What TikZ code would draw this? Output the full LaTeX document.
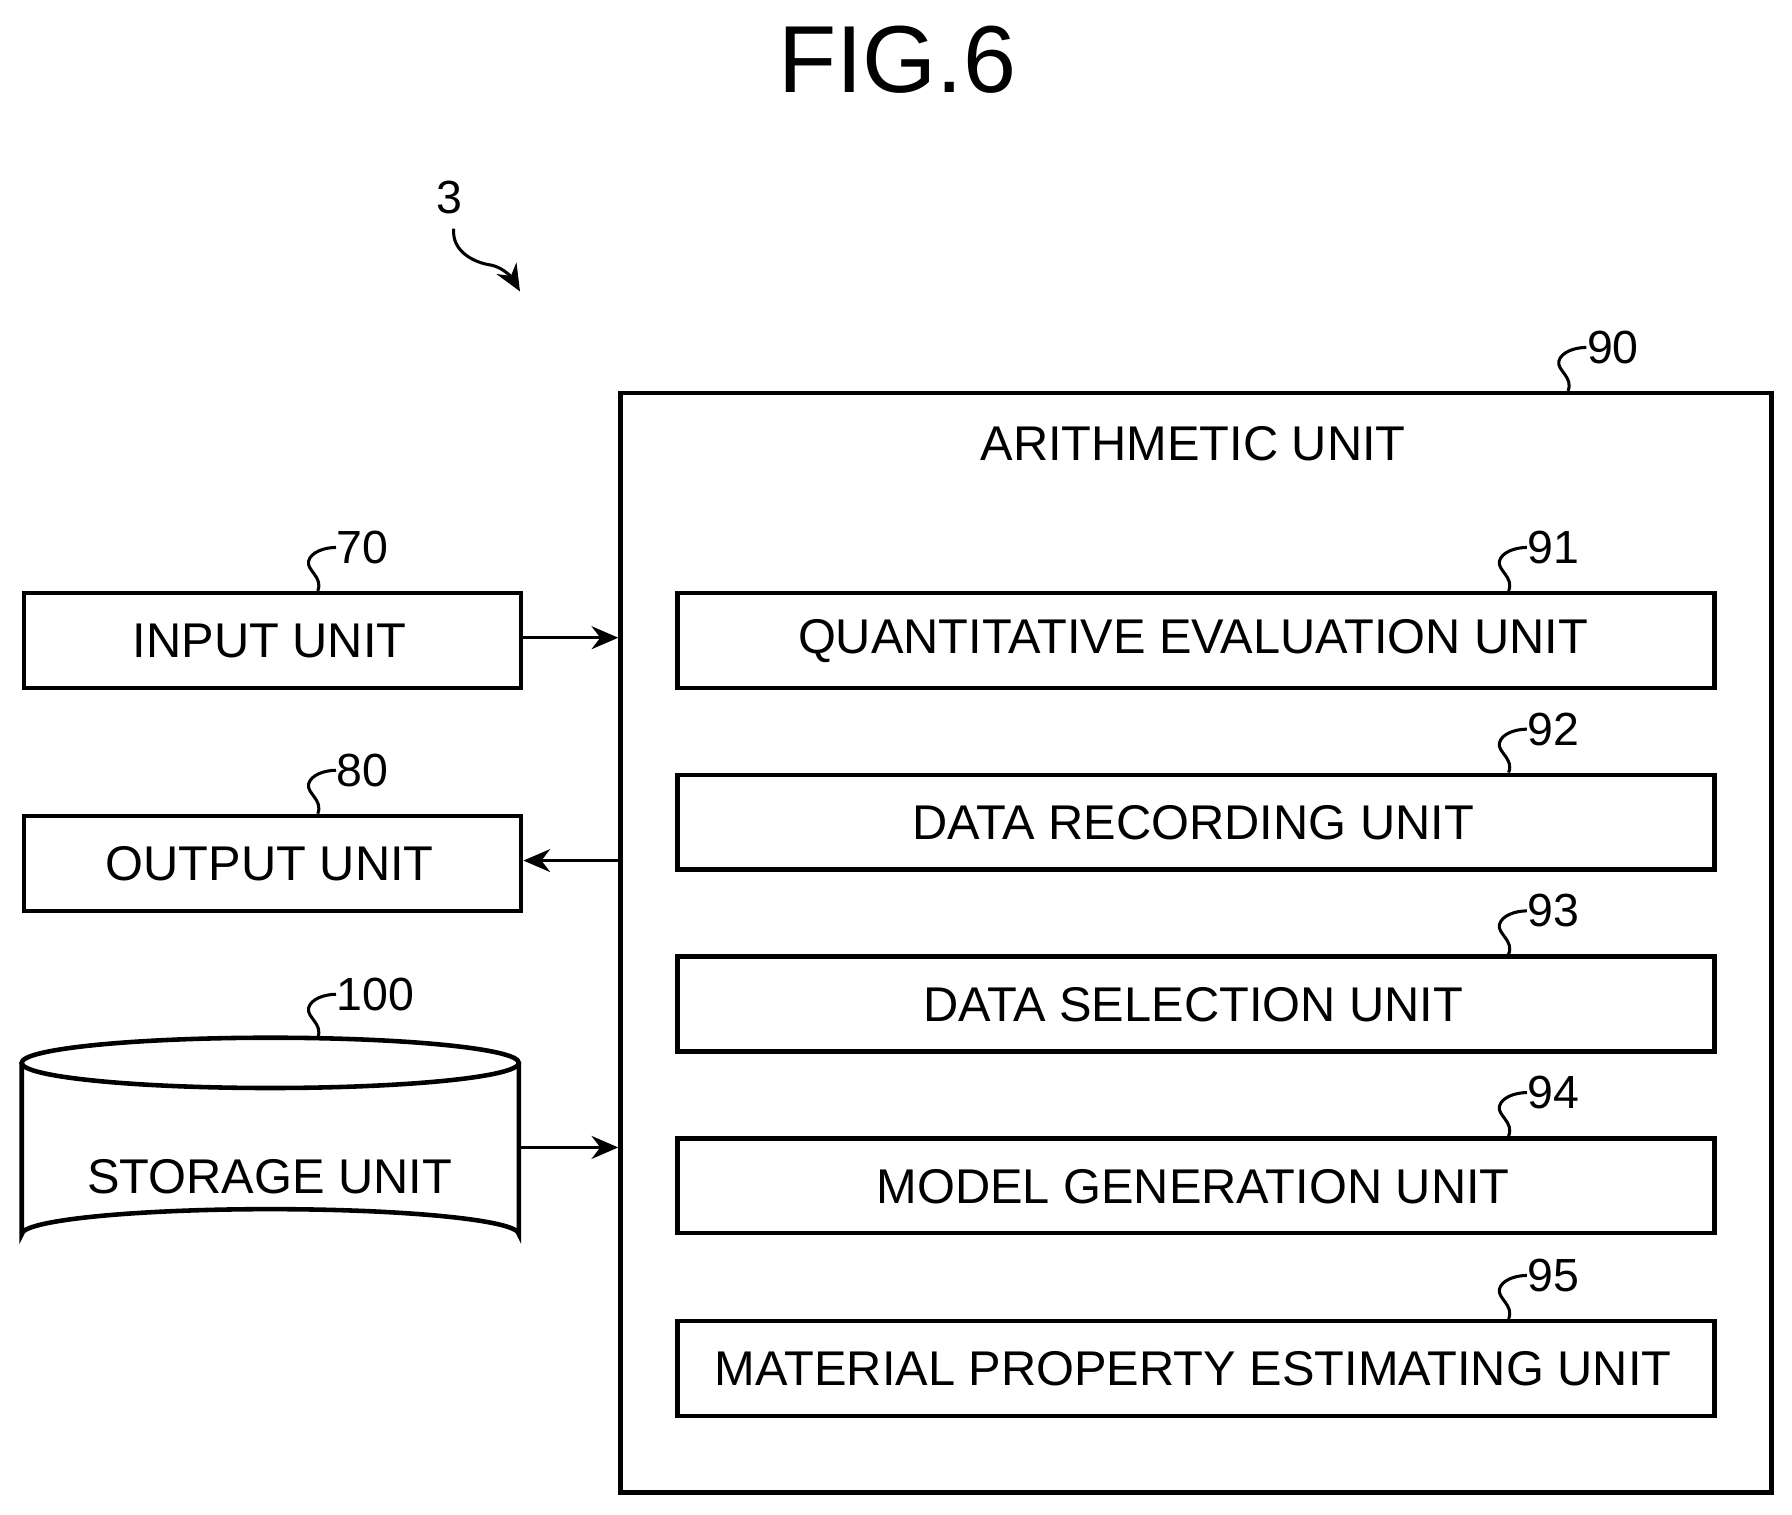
\documentclass[tikz,border=0pt]{standalone}
\usepackage{fontspec}
\setmainfont{Liberation Sans}
\usetikzlibrary{arrows.meta}
\begin{document}
\begin{tikzpicture}[x=0.3pt,y=-0.3pt,
  box/.style={draw,line width=1.2pt},
  lbl/.style={font=\fontsize{12.8}{14}\selectfont},
  num/.style={font=\fontsize{12.2}{14}\selectfont,anchor=west,inner sep=0pt},
  arr/.style={-{Stealth[length=7pt,width=6pt]},line width=0.9pt},
  sq/.style={line width=0.8pt}]
\useasboundingbox (0,0) rectangle (1568,1325);
\newcommand{\squig}[3]{\draw[sq] (#1,#2) .. controls (#1+5,#2-12) and (#1-10,#2-18) .. (#1-8,#2-26) .. controls (#1-6,#2-34) and (#1+6,#2-38) .. (#1+16,#2-38) coordinate (sq#3);
  \node[num] (n#3) at (#1+16,#2-38) {#3};}
\node[font=\fontsize{25}{28}\selectfont] (fig) at (785,52) {FIG.6};
\node[num,anchor=center] (n3) at (393,173) {3};
\coordinate (t3) at (455,255);
\draw[sq,-{Stealth[length=7pt,width=6pt]}] (397,200) .. controls (395,220) and (415,230) .. (430,232) .. controls (440,234) and (448,243) .. (t3);
% arithmetic
\node[box,minimum width=1007*0.3pt,minimum height=962*0.3pt,anchor=north west,inner sep=0pt] (A) at (541,342) {};
\node[lbl] (At) at (1044,388) {ARITHMETIC UNIT};
\squig{1372}{342}{90}
\foreach \y/\n/\t in {517/91/QUANTITATIVE EVALUATION UNIT,676/92/DATA RECORDING UNIT,835/93/DATA SELECTION UNIT,994/94/MODEL GENERATION UNIT,1154/95/MATERIAL PROPERTY ESTIMATING UNIT}{
  \node[box,lbl,minimum width=907*0.3pt,minimum height=83*0.3pt,anchor=north west,inner sep=0pt] (b\n) at (591,\y) {};
  \node[lbl] at (1044,\y+44) {\t};
  \squig{1320}{\y}{\n}
}
\node[box,lbl,minimum width=435*0.3pt,minimum height=83*0.3pt,anchor=north west,inner sep=0pt] (in) at (19,517) {};
\node[lbl] at (236,561) {INPUT UNIT};
\squig{278}{517}{70}
\node[box,lbl,minimum width=435*0.3pt,minimum height=83*0.3pt,anchor=north west,inner sep=0pt] (out) at (19,712) {};
\node[lbl] at (236,756) {OUTPUT UNIT};
\squig{278}{712}{80}
% storage
\draw[box,fill=white] (19,930) -- (19,1080) arc[start angle=180,end angle=360,x radius=217.5,y radius=22] -- (454,930);
\draw[box] (236.5,930) ellipse [x radius=217.5, y radius=22];
\coordinate (st) at (454,1004);
\node[lbl] at (236,1030) {STORAGE UNIT};
\squig{278}{908}{100}
\coordinate (a1) at (541,558);\coordinate (a2) at (541,753);\coordinate (a3) at (541,1004);
\draw[arr] (in.east |- a1) -- (a1);
\draw[arr] (a2) -- (out.east |- a2);
\draw[arr] (st) -- (a3);
\end{tikzpicture}
\end{document}
